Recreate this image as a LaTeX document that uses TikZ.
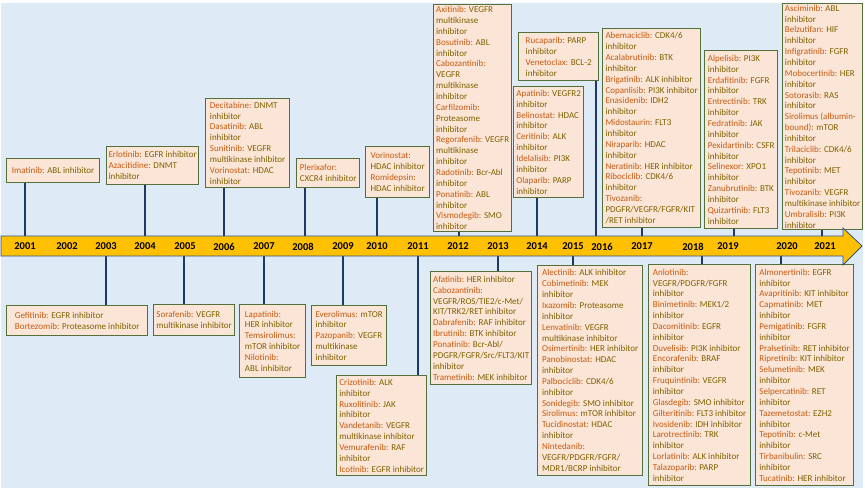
\documentclass[tikz,border=0pt]{standalone}
\usepackage{fontspec}
\setmainfont{Carlito}
\usepackage{xcolor}
\usetikzlibrary{calc,positioning}
\definecolor{bgblue}{RGB}{222,235,247}
\definecolor{bandor}{RGB}{255,192,0}
\definecolor{bandline}{RGB}{47,82,143}
\definecolor{stemblue}{RGB}{31,56,100}
\definecolor{boxfill}{RGB}{251,229,214}
\definecolor{boxline}{RGB}{84,112,58}
\definecolor{drug}{RGB}{197,90,17}
\definecolor{target}{RGB}{127,96,0}
\newcommand{\dr}[1]{\textcolor{drug}{#1}}

\begin{document}
\begin{tikzpicture}[x=1pt, y=-1pt,
	box/.style = {draw=boxline, line width=1.3pt, fill=boxfill, text=target, anchor=north west,
		inner xsep=1pt, inner ysep=0pt, align=left, font=\fontsize{9pt}{10.85pt}\selectfont},
	yr/.style = {font=\fontsize{10.5pt}{12pt}\selectfont\bfseries},
	stem/.style = {draw=stemblue, line width=1.5pt}]
	\useasboundingbox (0,0) rectangle (865,490);
	\fill[bgblue] (1,3) rectangle (863,488);

	\coordinate (s2001) at (25,236);
	\coordinate (s2004) at (145,236);
	\coordinate (s2006) at (224,236);
	\coordinate (s2008) at (305,236);
	\coordinate (s2010) at (377,236);
	\coordinate (s2012) at (459,236);
	\coordinate (s2014) at (537,236);
	\coordinate (s2016) at (596,236);
	\coordinate (s2017) at (642,236);
	\coordinate (s2019) at (734,236);
	\coordinate (s2021) at (822,236);
	\coordinate (s2003) at (106,256);
	\coordinate (s2005) at (184,256);
	\coordinate (s2007) at (264,256);
	\coordinate (s2009) at (343,256);
	\coordinate (s2011) at (418,256);
	\coordinate (s2013) at (498,256);
	\coordinate (s2015) at (573,256);
	\coordinate (s2018) at (702,256);
	\coordinate (s2020) at (781,256);

	\node[box, minimum width=93pt, minimum height=24pt] (b2001) at (6,158) {\dr{Imatinib:} ABL inhibitor};
	\node[box, minimum width=92pt, minimum height=38pt] (b2004) at (106,146) {\dr{Erlotinib:} EGFR inhibitor\\ \dr{Azacitidine:} DNMT\\ inhibitor};
	\node[box, minimum width=84pt, minimum height=89pt] (b2006) at (205,98) {\dr{Decitabine:} DNMT\\ inhibitor\\ \dr{Dasatinib:} ABL\\ inhibitor\\ \dr{Sunitinib:} VEGFR\\ multikinase inhibitor\\ \dr{Vorinostat:} HDAC\\ inhibitor};
	\node[box, minimum width=63pt, minimum height=29pt] (b2008) at (296,158) {\dr{Plerixafor:}\\ CXCR4 inhibitor};
	\node[box, minimum width=64pt, minimum height=51pt] (b2010) at (365,146) {\dr{Vorinostat:}\\ HDAC inhibitor\\ \dr{Romidepsin:}\\ HDAC inhibitor};
	\node[box, minimum width=78pt, minimum height=227pt] (b2012) at (433,4) {\dr{Axitinib:} VEGFR\\ multikinase\\ inhibitor\\ \dr{Bosutinib:} ABL\\ inhibitor\\ \dr{Cabozantinib:}\\ VEGFR\\ multikinase\\ inhibitor\\ \dr{Carfilzomib:}\\ Proteasome\\ inhibitor\\ \dr{Regorafenib:} VEGFR\\ multikinase\\ inhibitor\\ \dr{Radotinib:} Bcr-Abl\\ inhibitor\\ \dr{Ponatinib:} ABL\\ inhibitor\\ \dr{Vismodegib:} SMO\\ inhibitor};
	\node[box, minimum width=70pt, minimum height=111pt] (b2014) at (513,86) {\dr{Apatinib:} VEGFR2\\ inhibitor\\ \dr{Belinostat:} HDAC\\ inhibitor\\ \dr{Ceritinib:} ALK\\ inhibitor\\ \dr{Idelalisib:} PI3K\\ inhibitor\\ \dr{Olaparib:} PARP\\ inhibitor};
	\node[box, minimum width=80pt, minimum height=48pt] (b2016) at (518,32) {\dr{Rucaparib:} PARP\\ inhibitor\\ \dr{Venetoclax:} BCL-2\\ inhibitor};
	\node[box, minimum width=98pt, minimum height=199pt] (b2017) at (602,28) {\dr{Abemaciclib:} CDK4/6\\ inhibitor\\ \dr{Acalabrutinib:} BTK\\ inhibitor\\ \dr{Brigatinib:} ALK inhibitor\\ \dr{Copanlisib:} PI3K inhibitor\\ \dr{Enasidenib:} IDH2\\ inhibitor\\ \dr{Midostaurin:} FLT3\\ inhibitor\\ \dr{Niraparib:} HDAC\\ inhibitor\\ \dr{Neratinib:} HER inhibitor\\ \dr{Ribociclib:} CDK4/6\\ inhibitor\\ \dr{Tivozanib:}\\ PDGFR/VEGFR/FGFR/KIT\\ /RET inhibitor};
	\node[box, minimum width=73pt, minimum height=178pt] (b2019) at (704,50) {\dr{Alpelisib:} PI3K\\ inhibitor\\ \dr{Erdafitinib:} FGFR\\ inhibitor\\ \dr{Entrectinib:} TRK\\ inhibitor\\ \dr{Fedratinib:} JAK\\ inhibitor\\ \dr{Pexidartinib:} CSFR\\ inhibitor\\ \dr{Selinexor:} XPO1\\ inhibitor\\ \dr{Zanubrutinib:} BTK\\ inhibitor\\ \dr{Quizartinib:} FLT3\\ inhibitor};
	\node[box, minimum width=80pt, minimum height=226pt] (b2021) at (782,3) {\dr{Asciminib:} ABL\\ inhibitor\\ \dr{Belzutifan:} HIF\\ inhibitor\\ \dr{Infigratinib:} FGFR\\ inhibitor\\ \dr{Mobocertinib:} HER\\ inhibitor\\ \dr{Sotorasib:} RAS\\ inhibitor\\ \dr{Sirolimus (albumin-}\\ \dr{bound):} mTOR\\ inhibitor\\ \dr{Trilaciclib:} CDK4/6\\ inhibitor\\ \dr{Tepotinib:} MET\\ inhibitor\\ \dr{Tivozanib:} VEGFR\\ multikinase inhibitor\\ \dr{Umbralisib:} PI3K\\ inhibitor};

	\node[box, minimum width=141pt, minimum height=30pt] (b2003) at (6,305) {\dr{Gefitinib:} EGFR inhibitor\\ \dr{Bortezomib:} Proteasome inhibitor};
	\node[box, minimum width=81pt, minimum height=31pt] (b2005) at (153,304) {\dr{Sorafenib:} VEGFR\\ multikinase inhibitor};
	\node[box, minimum width=66pt, minimum height=73pt] (b2007) at (239,304) {\dr{Lapatinib:}\\ HER inhibitor\\ \dr{Temsirolimus:}\\ mTOR inhibitor\\ \dr{Nilotinib:}\\ ABL inhibitor};
	\node[box, minimum width=75pt, minimum height=60pt] (b2009) at (311,305) {\dr{Everolimus:} mTOR\\ inhibitor\\ \dr{Pazopanib:} VEGFR\\ multikinase\\ inhibitor};
	\node[box, minimum width=90pt, minimum height=100pt] (b2011) at (336,375) {\dr{Crizotinib:} ALK\\ inhibitor\\ \dr{Ruxolitinib:} JAK\\ inhibitor\\ \dr{Vandetanib:} VEGFR\\ multikinase inhibitor\\ \dr{Vemurafenib:} RAF\\ inhibitor\\ \dr{Icotinib:} EGFR inhibitor};
	\node[box, minimum width=101pt, minimum height=113pt] (b2013) at (430,271) {\dr{Afatinib:} HER inhibitor\\ \dr{Cabozantinib:}\\ VEGFR/ROS/TIE2/c-Met/\\ KIT/TRK2/RET inhibitor\\ \dr{Dabrafenib:} RAF inhibitor\\ \dr{Ibrutinib:} BTK inhibitor\\ \dr{Ponatinib:} Bcr-Abl/\\ PDGFR/FGFR/Src/FLT3/KIT\\ inhibitor\\ \dr{Trametinib:} MEK inhibitor};
	\node[box, minimum width=105pt, minimum height=210pt] (b2015) at (537,265) {\dr{Alectinib:} ALK inhibitor\\ \dr{Cobimetinib:} MEK\\ inhibitor\\ \dr{Ixazomib:} Proteasome\\ inhibitor\\ \dr{Lenvatinib:} VEGFR\\ multikinase inhibitor\\ \dr{Osimertinib:} HER inhibitor\\ \dr{Panobinostat:} HDAC\\ inhibitor\\ \dr{Palbociclib:} CDK4/6\\ inhibitor\\ \dr{Sonidegib:} SMO inhibitor\\ \dr{Sirolimus:} mTOR inhibitor\\ \dr{Tucidinostat:} HDAC\\ inhibitor\\ \dr{Nintedanib:}\\ VEGFR/PDGFR/FGFR/\\ MDR1/BCRP inhibitor};
	\node[box, minimum width=102pt, minimum height=221pt] (b2018) at (648,264) {\dr{Anlotinib:}\\ VEGFR/PDGFR/FGFR\\ inhibitor\\ \dr{Binimetinib:} MEK1/2\\ inhibitor\\ \dr{Dacomitinib:} EGFR\\ inhibitor\\ \dr{Duvelisib:} PI3K inhibitor\\ \dr{Encorafenib:} BRAF\\ inhibitor\\ \dr{Fruquintinib:} VEGFR\\ inhibitor\\ \dr{Glasdegib:} SMO inhibitor\\ \dr{Gilteritinib:} FLT3 inhibitor\\ \dr{Ivosidenib:} IDH inhibitor\\ \dr{Larotrectinib:} TRK\\ inhibitor\\ \dr{Lorlatinib:} ALK inhibitor\\ \dr{Talazoparib:} PARP\\ inhibitor};
	\node[box, minimum width=98pt, minimum height=221pt] (b2020) at (755,264) {\dr{Almonertinib:} EGFR\\ inhibitor\\ \dr{Avapritinib:} KIT inhibitor\\ \dr{Capmatinib:} MET\\ inhibitor\\ \dr{Pemigatinib:} FGFR\\ inhibitor\\ \dr{Pralsetinib:} RET inhibitor\\ \dr{Ripretinib:} KIT inhibitor\\ \dr{Selumetinib:} MEK\\ inhibitor\\ \dr{Selpercatinib:} RET\\ inhibitor\\ \dr{Tazemetostat:} EZH2\\ inhibitor\\ \dr{Tepotinib:} c-Met\\ inhibitor\\ \dr{Tirbanibulin:} SRC\\ inhibitor\\ \dr{Tucatinib:} HER inhibitor};

	\draw[stem] (s2001) -- (s2001 |- b2001.south);
	\draw[stem] (s2004) -- (s2004 |- b2004.south);
	\draw[stem] (s2006) -- (s2006 |- b2006.south);
	\draw[stem] (s2008) -- (s2008 |- b2008.south);
	\draw[stem] (s2010) -- (s2010 |- b2010.south);
	\draw[stem] (s2012) -- (s2012 |- b2012.south);
	\draw[stem] (s2014) -- (s2014 |- b2014.south);
	\draw[stem] (s2016) -- (s2016 |- b2016.south);
	\draw[stem] (s2017) -- (s2017 |- b2017.south);
	\draw[stem] (s2019) -- (s2019 |- b2019.south);
	\draw[stem] (s2021) -- (s2021 |- b2021.south);
	\draw[stem] (s2003) -- (s2003 |- b2003.north);
	\draw[stem] (s2005) -- (s2005 |- b2005.north);
	\draw[stem] (s2007) -- (s2007 |- b2007.north);
	\draw[stem] (s2009) -- (s2009 |- b2009.north);
	\draw[stem] (s2011) -- (s2011 |- b2011.north);
	\draw[stem] (s2013) -- (s2013 |- b2013.north);
	\draw[stem] (s2015) -- (s2015 |- b2015.north);
	\draw[stem] (s2018) -- (s2018 |- b2018.north);
	\draw[stem] (s2020) -- (s2020 |- b2020.north);

	\draw[bandline, fill=bandor, line width=0.8pt] (1,236) -- (843,236) -- (843,228) -- (862,246) -- (843,265) -- (843,256) -- (1,256) -- cycle;

	\node[yr] (y2001) at (25,246.5) {2001};
	\node[yr] (y2002) at (67,246.5) {2002};
	\node[yr] (y2003) at (106,246.5) {2003};
	\node[yr] (y2004) at (145,246.5) {2004};
	\node[yr] (y2005) at (185,246.5) {2005};
	\node[yr] (y2006) at (224,246.5) {2006};
	\node[yr] (y2007) at (264,246.5) {2007};
	\node[yr] (y2008) at (303,246.5) {2008};
	\node[yr] (y2009) at (343,246.5) {2009};
	\node[yr] (y2010) at (377,246.5) {2010};
	\node[yr] (y2011) at (418,246.5) {2011};
	\node[yr] (y2012) at (458,246.5) {2012};
	\node[yr] (y2013) at (498,246.5) {2013};
	\node[yr] (y2014) at (537,246.5) {2014};
	\node[yr] (y2015) at (573,246.5) {2015};
	\node[yr] (y2016) at (602,246.5) {2016};
	\node[yr] (y2017) at (642,246.5) {2017};
	\node[yr] (y2018) at (693,246.5) {2018};
	\node[yr] (y2019) at (728,246.5) {2019};
	\node[yr] (y2020) at (787,246.5) {2020};
	\node[yr] (y2021) at (825,246.5) {2021};
\end{tikzpicture}
\end{document}
